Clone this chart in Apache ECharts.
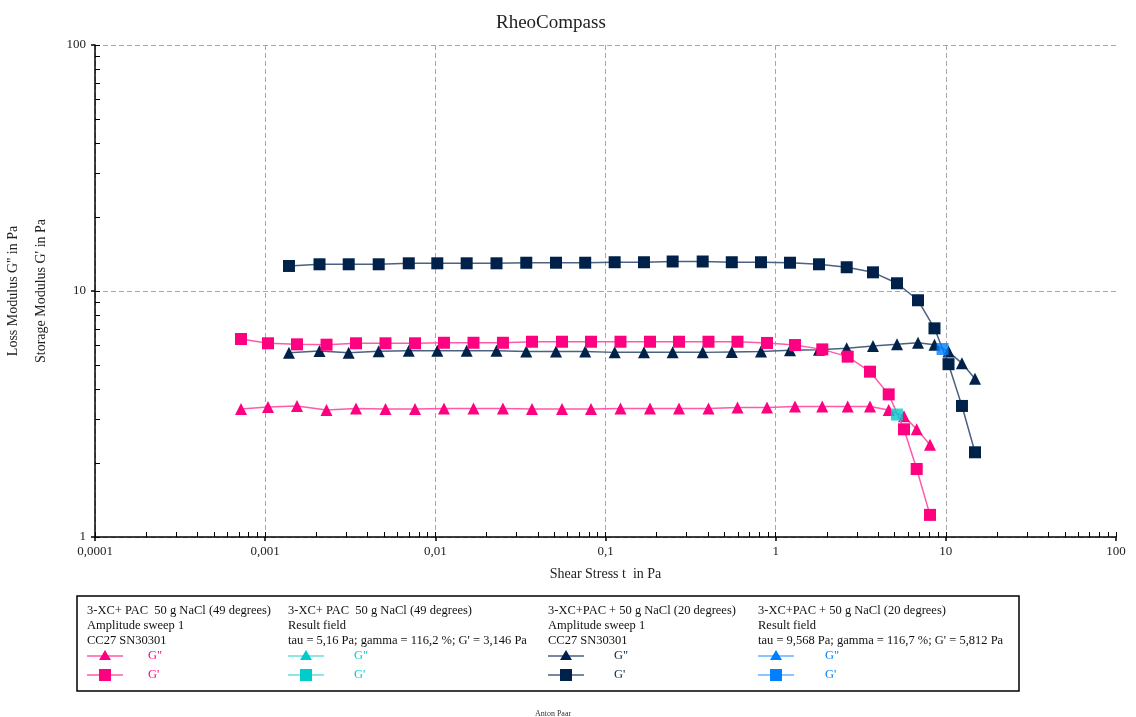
<!DOCTYPE html>
<html>
<head>
<meta charset="utf-8">
<script src="https://cdn.jsdelivr.net/npm/echarts@6/dist/echarts.min.js"></script>
<style>html,body{margin:0;padding:0;background:#fff}#c{width:1136px;height:717px}</style>
</head>
<body>
<div id="c"></div>
<script>
// ---- data ----
const pinkX = [0.000721,0.001039,0.001538,0.002294,0.003418,0.005094,0.007596,0.01124,0.01676,0.02497,0.03698,0.0555,0.08217,0.1225,0.1826,0.2703,0.4029,0.5965,0.8891,1.299,1.879,2.65,3.584,4.616,5.677,6.742,8.069];
const pinkGp = [6.38,6.13,6.07,6.05,6.13,6.13,6.13,6.16,6.16,6.16,6.22,6.22,6.22,6.22,6.22,6.22,6.22,6.22,6.15,6.03,5.79,5.41,4.70,3.80,2.74,1.89,1.23];
const pinkGpp = [3.31,3.38,3.41,3.28,3.33,3.31,3.31,3.33,3.33,3.33,3.31,3.31,3.31,3.33,3.33,3.33,3.33,3.36,3.36,3.39,3.39,3.39,3.39,3.28,3.10,2.74,2.37];

const navyX = [0.00138,0.002086,0.003097,0.004647,0.006982,0.01027,0.01528,0.02288,0.03423,0.05118,0.07598,0.1132,0.1683,0.2481,0.3725,0.5523,0.8199,1.214,1.797,2.615,3.731,5.164,6.862,8.577,10.37,12.44,14.84];
const navyGp = [12.64,12.84,12.84,12.84,12.96,12.96,12.96,12.96,13.03,13.03,13.03,13.09,13.09,13.18,13.18,13.09,13.09,13.03,12.84,12.49,11.91,10.75,9.17,7.05,5.04,3.41,2.21];
const navyGpp = [5.61,5.70,5.61,5.69,5.72,5.72,5.72,5.72,5.67,5.67,5.67,5.63,5.63,5.63,5.63,5.65,5.67,5.74,5.77,5.85,5.97,6.07,6.16,6.05,5.67,5.08,4.40];

const result49X = [5.16];
const result49Gp = [3.146];
const result20X = [9.568];
const result20Gp = [5.812];

const xMajorTicks = [0.0001, 0.001, 0.01, 0.1, 1, 10, 100];
const xGridTicks = [0.0001, 0.001, 0.01, 0.1, 1, 10];
const yMajorTicks = [1, 10, 100];

const legendHeaders = [
  ['3-XC+ PAC  50 g NaCl (49 degrees)', 'Amplitude sweep 1', 'CC27 SN30301'],
  ['3-XC+ PAC  50 g NaCl (49 degrees)', 'Result field', "tau = 5,16 Pa; gamma = 116,2 %; G' = 3,146 Pa"],
  ['3-XC+PAC + 50 g NaCl (20 degrees)', 'Amplitude sweep 1', 'CC27 SN30301'],
  ['3-XC+PAC + 50 g NaCl (20 degrees)', 'Result field', "tau = 9,568 Pa; gamma = 116,7 %; G' = 5,812 Pa"]
];

// ---- styles ----
const FONT = '"Liberation Serif", "DejaVu Serif", serif';
const PINK = '#FF0080', PINK_LINE = '#FF5AAA';
const CYAN = '#00CCCC', CYAN_LINE = '#66DEDE';
const NAVY = '#00224A', NAVY_LINE = '#4A6280';
const BLUE = '#0080FF', BLUE_LINE = '#66B0FF';

function pairs(xs, ys) { return xs.map((x, i) => [x, ys[i]]); }
function fmt(v) { return String(v).replace('.', ','); }

const minorX = [], minorY = [];
for (let e = -4; e < 2; e++) for (let k = 1; k <= 9; k++) minorX.push(Number((k * Math.pow(10, e)).toPrecision(6)));
minorX.push(100);
for (let e = 0; e < 2; e++) for (let k = 1; k <= 9; k++) minorY.push(k * Math.pow(10, e));
minorY.push(100);

const dashed = { show: true, lineStyle: { color: '#A8A8A8', type: [5, 3], width: 1 } };

const chart = echarts.init(document.getElementById('c'), null, { renderer: 'canvas' });

// legend graphic
const colX = [87, 288, 548, 758];
const labX = [148, 354, 614, 825];
const legendCols = [
  { line: PINK_LINE, mark: PINK },
  { line: CYAN_LINE, mark: CYAN },
  { line: NAVY_LINE, mark: NAVY },
  { line: BLUE_LINE, mark: BLUE }
];
const LFONT = '12.5px ' + FONT;
const graphics = [
  { type: 'rect', shape: { x: 77, y: 596, width: 942, height: 95 }, style: { fill: 'none', stroke: '#000', lineWidth: 1.5 } },
  { type: 'text', x: 553, y: 714, style: { text: 'Anton Paar', font: '8px ' + FONT, fill: '#333', align: 'center', verticalAlign: 'middle' } }
];
legendHeaders.forEach((lines, c) => {
  lines.forEach((t, r) => {
    graphics.push({ type: 'text', x: colX[c], y: 610.5 + r * 15.3, style: { text: t, font: LFONT, fill: '#111', verticalAlign: 'middle' } });
  });
  const lc = legendCols[c];
  [['G"', 656, 'tri'], ["G'", 675, 'sq']].forEach(([lab, y, sym]) => {
    graphics.push({ type: 'line', shape: { x1: colX[c], y1: y, x2: colX[c] + 36, y2: y }, style: { stroke: lc.line, lineWidth: 1.5 } });
    const cx = colX[c] + 18;
    if (sym === 'tri') {
      graphics.push({ type: 'polygon', shape: { points: [[cx, y - 6], [cx - 6, y + 4], [cx + 6, y + 4]] }, style: { fill: lc.mark } });
    } else {
      graphics.push({ type: 'rect', shape: { x: cx - 6, y: y - 6, width: 12, height: 12 }, style: { fill: lc.mark } });
    }
    graphics.push({ type: 'text', x: labX[c], y: y, style: { text: lab, font: LFONT, fill: lc.mark, verticalAlign: 'middle' } });
  });
});

function lineSeries(name, xs, ys, sym, mark, line, z) {
  return {
    name, type: 'line', xAxisIndex: 0, yAxisIndex: 0,
    data: pairs(xs, ys), symbol: sym, symbolSize: 12, showSymbol: true,
    itemStyle: { color: mark }, lineStyle: { color: line, width: 1.5 },
    z: z, animation: false
  };
}

const option = {
  animation: false,
  backgroundColor: '#fff',
  title: { text: 'RheoCompass', left: 491, top: 9, textStyle: { fontFamily: FONT, fontSize: 19, fontWeight: 'normal', color: '#222' } },
  grid: { left: 95, right: 20, top: 45, bottom: 180, containLabel: false, outerBoundsMode: 'none' },
  xAxis: [
    {
      type: 'log', logBase: 10, min: 0.0001, max: 100,
      name: 'Shear Stress t  in Pa', nameLocation: 'middle', nameGap: 30,
      nameTextStyle: { fontFamily: FONT, fontSize: 14, color: '#222' },
      axisLine: { show: true, onZero: false, lineStyle: { color: '#000', width: 1.5 } },
      axisTick: { show: true, inside: false, length: 4, customValues: xGridTicks, lineStyle: { color: '#000', width: 1.5 } },
      axisLabel: { show: true, margin: 8, fontFamily: FONT, fontSize: 13, color: '#222', formatter: fmt, customValues: xMajorTicks },
      splitLine: dashed
    },
    {
      type: 'log', logBase: 10, min: 0.0001, max: 100, gridIndex: 0, position: 'bottom',
      axisLine: { show: false },
      axisTick: { show: true, inside: true, length: 5, customValues: minorX, lineStyle: { color: '#000', width: 1 } },
      axisLabel: { show: false },
      splitLine: { show: false }
    },
    {
      type: 'log', logBase: 10, min: 0.0001, max: 100, gridIndex: 0, position: 'bottom',
      axisLine: { show: false },
      axisTick: { show: true, inside: false, length: 4, customValues: [100], lineStyle: { color: '#000', width: 1.5 } },
      axisLabel: { show: false },
      splitLine: { show: false }
    }
  ],
  yAxis: [
    {
      type: 'log', logBase: 10, min: 1, max: 100,
      name: "Loss Modulus G'' in Pa\nStorage Modulus G' in Pa", nameLocation: 'middle', nameGap: 27,
      nameTextStyle: { fontFamily: FONT, fontSize: 14, color: '#222', lineHeight: 28 },
      axisLine: { show: true, onZero: false, lineStyle: { color: '#000', width: 1.5 } },
      axisTick: { show: true, inside: false, length: 4, lineStyle: { color: '#000', width: 1.5 } },
      axisLabel: { show: true, margin: 9, fontFamily: FONT, fontSize: 13, color: '#222' },
      splitLine: dashed
    },
    {
      type: 'log', logBase: 10, min: 1, max: 100, gridIndex: 0, position: 'left',
      axisLine: { show: false },
      axisTick: { show: true, inside: true, length: 5, customValues: minorY, lineStyle: { color: '#000', width: 1 } },
      axisLabel: { show: false },
      splitLine: { show: false }
    }
  ],
  series: [
    lineSeries("G'' 49", pinkX, pinkGpp, 'triangle', PINK, PINK_LINE, 3),
    lineSeries("G' 49", pinkX, pinkGp, 'rect', PINK, PINK_LINE, 4),
    lineSeries("G'' 20", navyX, navyGpp, 'triangle', NAVY, NAVY_LINE, 3),
    lineSeries("G' 20", navyX, navyGp, 'rect', NAVY, NAVY_LINE, 4),
    { name: "Result 49", type: 'scatter', data: pairs(result49X, result49Gp), symbol: 'rect', symbolSize: 12, itemStyle: { color: CYAN }, z: 6 },
    { name: "Result 20", type: 'scatter', data: pairs(result20X, result20Gp), symbol: 'rect', symbolSize: 12, itemStyle: { color: BLUE }, z: 6 }
  ],
  graphic: graphics
};
chart.setOption(option);
</script>
</body>
</html>
